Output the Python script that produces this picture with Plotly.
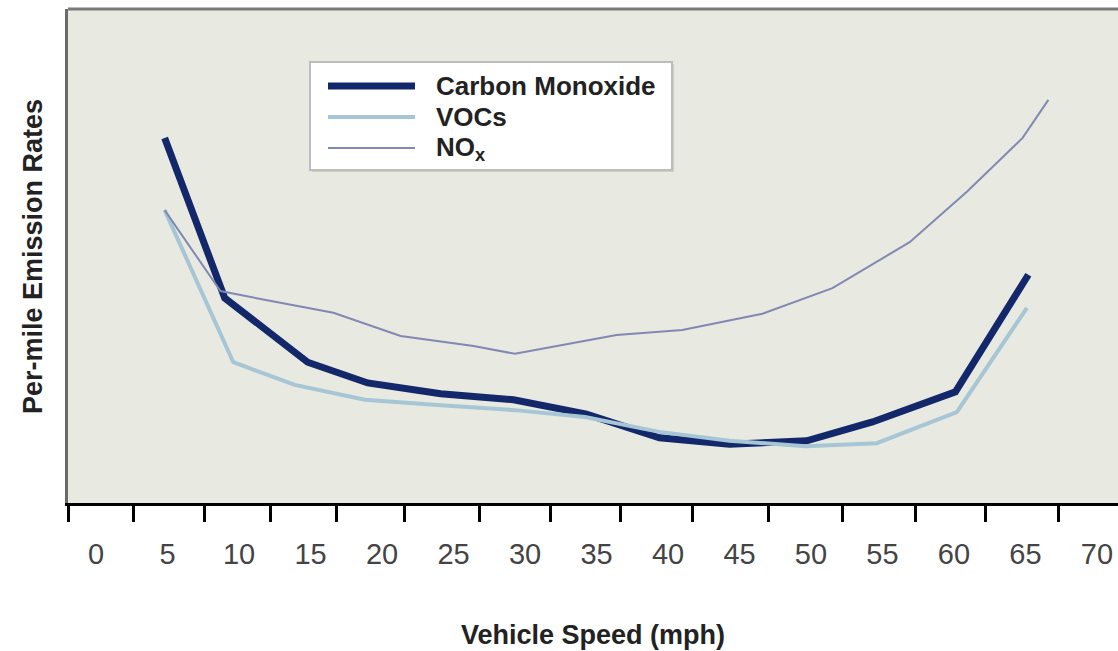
import plotly.graph_objects as go

# ---- data ----
co_speed = [4.8, 9.0, 14.8, 19.0, 24.1, 29.2, 34.3, 39.4, 44.3, 49.7, 54.3, 60.1, 65.2]
co_rate = [73.9, 41.5, 28.5, 24.3, 22.1, 20.9, 18.0, 13.2, 11.9, 12.6, 16.4, 22.5, 46.2]

voc_speed = [4.8, 9.6, 13.9, 18.8, 24.1, 29.3, 34.2, 39.4, 44.3, 49.6, 54.6, 60.2, 65.1]
voc_rate = [59.3, 28.5, 23.9, 20.9, 19.8, 18.8, 17.4, 14.4, 12.6, 11.5, 12.1, 18.4, 39.5]

nox_speed = [4.8, 8.7, 11.5, 16.6, 21.3, 26.4, 29.3, 36.4, 41.0, 46.6, 51.5, 56.9, 60.9, 64.8, 66.6]
nox_rate = [59.3, 42.9, 41.3, 38.5, 33.8, 31.8, 30.2, 34.0, 35.0, 38.3, 43.5, 52.8, 63.0, 73.9, 81.6]

speed_labels = [0, 5, 10, 15, 20, 25, 30, 35, 40, 45, 50, 55, 60, 65, 70]
tick_marks = [-1.9, 2.59, 7.62, 12.17, 16.85, 21.6, 26.85, 31.8, 36.7, 41.7, 47.0, 52.2, 57.3, 62.2, 67.3]

series_names = ["Carbon Monoxide", "VOCs", "NO<sub>x</sub>"]
series_colors = ["#13286a", "#a6c6d6", "#8188b3"]
series_widths = [7, 4, 2]

FONT = "Liberation Sans, Arial, sans-serif"

fig = go.Figure()
for name, xs, ys, col, w in zip(series_names,
                                [co_speed, voc_speed, nox_speed],
                                [co_rate, voc_rate, nox_rate],
                                series_colors, series_widths):
    fig.add_trace(go.Scatter(x=xs, y=ys, mode="lines", name=name,
                             line=dict(color=col, width=w), showlegend=False,
                             hoverinfo="skip"))

# invisible trace to carry the tick-mark axis
fig.add_trace(go.Scatter(x=[tick_marks[0]], y=[0], xaxis="x2", mode="markers",
                         marker=dict(opacity=0), showlegend=False, hoverinfo="skip"))

xr = [-1.96, 71.47]
fig.update_layout(
    width=1118, height=651,
    margin=dict(l=68, r=0, t=9, b=148),
    paper_bgcolor="white",
    plot_bgcolor="#e8e9e0",
    xaxis=dict(range=xr, tickvals=speed_labels, ticktext=[str(v) for v in speed_labels],
               ticks="", showgrid=False, zeroline=False, showline=True,
               linecolor="black", linewidth=3,
               tickfont=dict(family=FONT, size=29, color="#444444"),
               ticklabelstandoff=23),
    xaxis2=dict(range=xr, overlaying="x", anchor="y", side="bottom",
                tickvals=tick_marks, ticks="outside", ticklen=18, tickwidth=3,
                tickcolor="black", showticklabels=False, showgrid=False,
                zeroline=False, showline=False),
    yaxis=dict(range=[0, 100], showticklabels=False, ticks="", showgrid=False,
               zeroline=False, showline=True, linecolor="#6b6b6b", linewidth=3),
)

# top border of the plotting box
fig.add_shape(type="line", xref="paper", yref="paper", x0=0, x1=1, y0=1, y1=1,
              line=dict(color="#7a7a7a", width=3))

# axis titles
fig.add_annotation(text="<b>Vehicle Speed (mph)</b>", xref="paper", yref="paper",
                   x=0.5, y=0, yshift=-132, xanchor="center", yanchor="middle",
                   showarrow=False,
                   font=dict(family=FONT, size=27, color="#222222"))
fig.add_annotation(text="<b>Per-mile Emission Rates</b>", xref="paper", yref="paper",
                   x=(33 - 68) / 1050, y=0.498, textangle=-90, xanchor="center",
                   yanchor="middle", showarrow=False,
                   font=dict(family=FONT, size=27, color="#222222"))

# custom legend box
lx0, lx1 = (310 - 68) / 1050, (672 - 68) / 1050
ly0, ly1 = (503 - 170) / 494, (503 - 62) / 494
fig.add_shape(type="rect", xref="paper", yref="paper", x0=lx0 + 0.002, x1=lx1 + 0.002,
              y0=ly0 - 0.004, y1=ly1 - 0.004, line=dict(width=0), fillcolor="#cfcfc8")
fig.add_shape(type="rect", xref="paper", yref="paper", x0=lx0, x1=lx1, y0=ly0, y1=ly1,
              line=dict(color="#bdbdbd", width=2), fillcolor="white")
row_y = [86, 117, 148]
for name, col, w, py in zip(series_names, series_colors, series_widths, row_y):
    yy = (503 - py) / 494
    fig.add_shape(type="line", xref="paper", yref="paper",
                  x0=(328 - 68) / 1050, x1=(415 - 68) / 1050, y0=yy, y1=yy,
                  line=dict(color=col, width=w))
    fig.add_annotation(text="<b>" + name + "</b>", xref="paper", yref="paper",
                       x=(434 - 68) / 1050, y=yy, xanchor="left", yanchor="middle",
                       showarrow=False, font=dict(family=FONT, size=26, color="#222222"))

fig.write_html("out.html", config={"displayModeBar": False},
               post_script="document.body.style.margin='0';")
